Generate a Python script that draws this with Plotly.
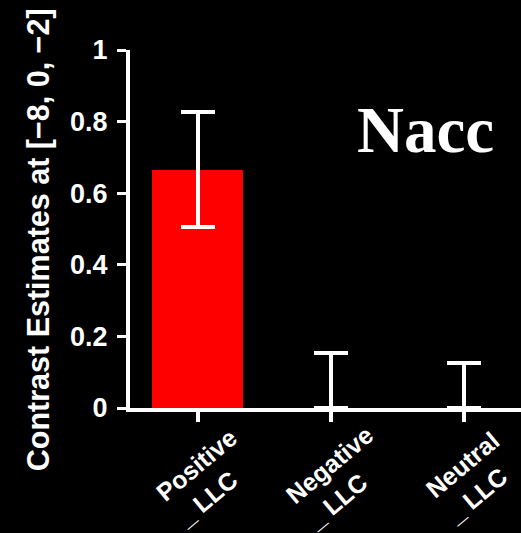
import plotly.graph_objects as go

categories = ["Positive<br>_ LLC", "Negative<br>_ LLC", "Neutral<br>_ LLC"]
values = [0.665, 0.0, 0.0]
err_plus = [0.162, 0.154, 0.126]
err_minus = [0.16, 0.0, 0.0]
y_ticks = [0, 0.2, 0.4, 0.6, 0.8, 1]
y_ticktext = ["0", "0.2", "0.4", "0.6", "0.8", "1"]
y_title = "Contrast Estimates at [\u22128, 0, \u22122]"
panel_label = "Nacc"

x_pos = list(range(len(categories)))

fig = go.Figure()
fig.add_trace(go.Bar(
    x=x_pos, y=values,
    width=0.684,
    marker=dict(color="#ff0000", line=dict(width=0)),
    error_y=dict(type="data", symmetric=False, array=err_plus, arrayminus=err_minus,
                 color="white", thickness=4, width=17),
))

# category labels (rotated, left-aligned two-line labels)
for xi, lab in zip(x_pos, categories):
    fig.add_annotation(
        text=f"<b>{lab}</b>", x=xi, xref="x", y=-0.194, yref="paper",
        xshift=9, showarrow=False, textangle=-40, align="left", borderpad=0,
        xanchor="center", yanchor="middle",
        font=dict(family="Liberation Sans", size=25, color="white"),
    )

# y-axis title
fig.add_annotation(
    text=f"<b>{y_title}</b>", xref="paper", yref="paper", x=-0.235, y=0.469,
    showarrow=False, textangle=-90, xanchor="center", yanchor="middle",
    font=dict(family="Liberation Sans", size=30.5, color="white"),
)

fig.add_annotation(
    text=f"<b>{panel_label}</b>", xref="paper", yref="paper", x=0.756, y=0.776,
    showarrow=False, font=dict(family="Liberation Serif", size=65, color="white"),
    xanchor="center", yanchor="middle",
)

fig.update_layout(
    width=521, height=533,
    paper_bgcolor="black", plot_bgcolor="black",
    margin=dict(l=130, r=0, t=50, b=125),
    showlegend=False,
    font=dict(family="Liberation Sans", color="white"),
    bargap=0,
)
fig.update_xaxes(
    range=[-0.511, 2.43], tickvals=x_pos, showticklabels=False,
    showgrid=False, zeroline=False, showline=True, linecolor="white", linewidth=4,
    ticks="outside", ticklen=10, tickwidth=4, tickcolor="white",
)
fig.update_yaxes(
    range=[0, 1], tickvals=y_ticks, ticktext=y_ticktext,
    showgrid=False, zeroline=False, showline=True, linecolor="white", linewidth=4,
    ticks="outside", ticklen=9, tickwidth=3, tickcolor="white",
    tickfont=dict(size=27, color="white", weight="bold"), ticklabelstandoff=4,
)

fig.write_html("out.html", config={"displayModeBar": False},
               post_script="document.body.style.margin='0';")
